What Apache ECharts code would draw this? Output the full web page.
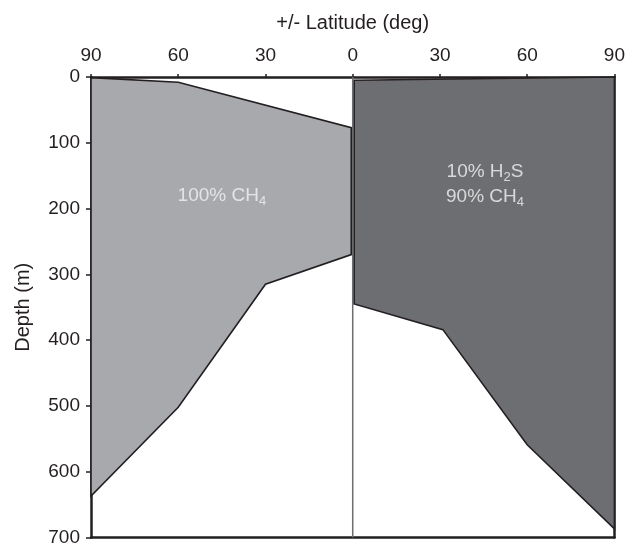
<!DOCTYPE html>
<html>
<head>
<meta charset="utf-8">
<script src="https://cdn.jsdelivr.net/npm/echarts@6/dist/echarts.min.js"></script>
<style>
html,body{margin:0;padding:0;background:#fff;overflow:hidden;}
#chart{width:628px;height:547px;}
</style>
</head>
<body>
<div id="chart"></div>
<script>
// Data (latitude: negative = left half, shown as absolute value)
var xTicks = [-90, -60, -30, 0, 30, 60, 90];
var yTicks = [0, 100, 200, 300, 400, 500, 600, 700];
var leftLat   = [-90, -60, -0.5, -0.5, -30, -60, -90];
var leftDepth = [1, 8, 77, 270, 315, 502, 637];
var rightLat   = [0.5, 90, 90, 60, 31, 0.5];
var rightDepth = [5, 0, 687, 559, 384, 345];
var dividerLat = [0, 0];
var dividerDepth = [0, 700];
var leftLabel = {lat: -45, depth: 180};
var rightLabel = {lat: 45.5, depth: 163};

function zip(a, b) { return a.map(function (v, i) { return [v, b[i]]; }); }

function polygonSeries(name, lats, depths, fill) {
  return {
    type: 'custom',
    name: name,
    coordinateSystem: 'cartesian2d',
    xAxisIndex: 0, yAxisIndex: 0,
    data: zip(lats, depths),
    renderItem: function (params, api) {
      if (params.dataIndex !== 0) return null;
      var pts = [];
      for (var i = 0; i < lats.length; i++) pts.push(api.coord([lats[i], depths[i]]));
      return {
        type: 'polygon',
        shape: {points: pts},
        style: {fill: fill, stroke: '#231f20', lineWidth: 1.6, lineJoin: 'miter'}
      };
    },
    silent: true,
    z: 2
  };
}

var chart = echarts.init(document.getElementById('chart'), null, {renderer: 'canvas'});
var font = '"Liberation Sans", Arial, sans-serif';
var txt = '#231f20';
var rich = {
  n: {color: '#f2f2f2', fontSize: 19, fontFamily: font, lineHeight: 25},
  s: {color: '#f2f2f2', fontSize: 13, fontFamily: font, verticalAlign: 'bottom', padding: [12, 0, 0, 0], lineHeight: 25}
};

var option = {
  animation: false,
  backgroundColor: '#fff',
  grid: {left: 91, right: 12, top: 77, bottom: 5, containLabel: false},
  xAxis: [{
    type: 'value', position: 'top', min: -90, max: 90, interval: 30,
    name: '+/- Latitude (deg)', nameLocation: 'middle', nameGap: 44,
    nameTextStyle: {fontSize: 20, color: txt, fontFamily: font},
    axisLine: {show: true, onZero: false, lineStyle: {color: txt, width: 2.5}},
    axisTick: {show: true, inside: false, length: 3, lineStyle: {color: txt, width: 1.5}},
    axisLabel: {fontSize: 19, color: txt, fontFamily: font, margin: 12,
      formatter: function (v) { return Math.abs(v); }},
    splitLine: {show: false}
  }, {
    type: 'value', position: 'bottom', min: -90, max: 90,
    axisLine: {show: true, onZero: false, lineStyle: {color: txt, width: 2.5}},
    axisTick: {show: false}, axisLabel: {show: false}, splitLine: {show: false}
  }],
  yAxis: [{
    type: 'value', inverse: true, min: 0, max: 700, interval: 100,
    name: 'Depth (m)', nameLocation: 'middle', nameGap: 58,
    nameTextStyle: {fontSize: 20, color: txt, fontFamily: font},
    axisLine: {show: true, onZero: false, lineStyle: {color: txt, width: 2.5}},
    axisTick: {show: true, inside: false, length: 5, lineStyle: {color: txt, width: 1.5}},
    axisLabel: {fontSize: 19, color: txt, fontFamily: font, margin: 11},
    splitLine: {show: false}
  }, {
    type: 'value', position: 'right', inverse: true, min: 0, max: 700,
    axisLine: {show: true, onZero: false, lineStyle: {color: txt, width: 2.5}},
    axisTick: {show: false}, axisLabel: {show: false}, splitLine: {show: false}
  }],
  series: [
    {
      type: 'line', name: 'divider', data: zip(dividerLat, dividerDepth),
      symbol: 'none', lineStyle: {color: '#6d6e71', width: 1.5}, silent: true, z: 1
    },
    polygonSeries('left', leftLat, leftDepth, '#a7a9ac'),
    polygonSeries('right', rightLat, rightDepth, '#6d6e71'),
    {
      type: 'scatter', name: 'labels', symbolSize: 0, silent: true, z: 5,
      data: [
        {value: [leftLabel.lat, leftLabel.depth],
         label: {show: true, position: 'inside', rich: rich,
           formatter: '{n|100% CH}{s|4}'}},
        {value: [rightLabel.lat, rightLabel.depth],
         label: {show: true, position: 'inside', rich: rich, align: 'center',
           formatter: '{n|10% H}{s|2}{n|S}\n{n|90% CH}{s|4}'}}
      ]
    }
  ]
};
chart.setOption(option);
</script>
</body>
</html>
